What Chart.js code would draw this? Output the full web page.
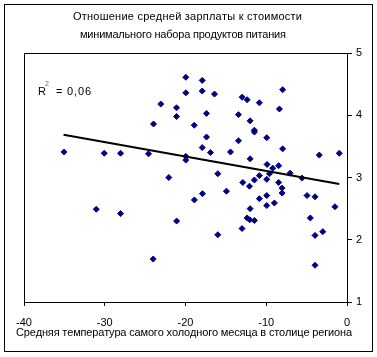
<!DOCTYPE html>
<html><head><meta charset="utf-8">
<script src="https://cdn.jsdelivr.net/npm/chart.js@4.4.0/dist/chart.umd.min.js"></script>
<style>html,body{margin:0;padding:0;background:#fff;} canvas{display:block;}</style>
</head><body>
<div style="width:377px;height:357px;position:relative"><canvas id="c" width="377" height="357"></canvas></div>
<script>
const titleLines = ['Отношение средней зарплаты к стоимости', 'минимального набора продуктов питания'];
const xAxisTitle = 'Средняя температура самого холодного месяца в столице региона';
const r2Value = '0,06';

const tempX = [-35.05,-31.05,-30.06,-28.04,-28.04,-24.58,-23.96,-24.0,-23.06,-22.07,
  -21.11,-21.11,-21.1,-19.96,-19.96,-19.96,-19.96,-18.92,-18.9,-17.93,
  -17.93,-17.4,-17.4,-17.93,-17.9,-16.91,-16.41,-16.0,-16.0,-14.93,
  -14.43,-13.44,-13.44,-12.99,-12.37,-12.0,-12.0,-12.9,-12.08,-12.0,
  -12.37,-12.05,-11.47,-13.0,-11.47,-11.47,-11.47,-10.85,-10.85,-10.85,
  -9.94,-9.9,-9.6,-9.94,-9.94,-9.94,-9.2,-8.99,-8.46,-8.46,
  -8.37,-8.04,-8.04,-7.97,-7.97,-7.05,-5.57,-4.95,-4.54,-3.96,
  -3.96,-3.0,-3.96,-3.43,-1.49,-0.95];
const ratioY = [3.41,2.49,3.39,3.39,2.42,3.38,3.86,1.69,4.18,3.0,
  4.12,3.98,2.30,4.61,4.36,3.34,3.28,3.84,2.64,4.56,
  4.39,4.03,3.65,3.48,2.74,3.40,4.34,3.06,2.08,2.78,
  3.41,4.01,3.59,4.29,4.25,3.91,3.30,2.92,2.86,2.50,
  2.35,2.32,2.31,2.18,3.76,3.73,2.96,4.20,3.03,2.66,
  3.64,3.21,3.06,2.97,2.71,2.55,3.15,2.59,3.19,2.92,
  4.10,2.83,2.75,4.41,3.46,3.07,2.99,2.71,2.35,2.69,
  2.07,2.13,1.59,3.36,2.53,3.39];

const trendX = [-35.1, -0.95];
const trendY = [3.687, 2.895];

const xTicks = [-40, -30, -20, -10, 0];
const yTicks = [1, 2, 3, 4, 5];

const FONT = '"Liberation Sans", Arial, sans-serif';

function spreadText(ctx, str, left, right, y) {
  const chars = Array.from(str);
  const widths = chars.map(c => ctx.measureText(c).width);
  const total = widths.reduce((s, w) => s + w, 0);
  const extra = chars.length > 1 ? (right - left - total) / (chars.length - 1) : 0;
  let x = left;
  ctx.textAlign = 'left';
  chars.forEach((c, i) => { ctx.fillText(c, x, y); x += widths[i] + extra; });
}

const decor = {
  id: 'decor',
  afterDraw(chart) {
    const ctx = chart.ctx;
    const a = chart.chartArea;
    ctx.save();
    ctx.strokeStyle = '#000';
    ctx.lineWidth = 1;
    ctx.strokeRect(4.5, 4.5, 368, 347);
    ctx.strokeRect(Math.round(a.left) + 0.5, Math.round(a.top) + 0.5,
      Math.round(a.right) - Math.round(a.left), Math.round(a.bottom) - Math.round(a.top));
    ctx.fillStyle = '#000';
    ctx.font = '11px ' + FONT;
    ctx.textBaseline = 'middle';
    spreadText(ctx, titleLines[0], 73, 302, 17);
    spreadText(ctx, titleLines[1], 80, 286, 35);
    spreadText(ctx, xAxisTitle, 16, 352, 333);
    ctx.textBaseline = 'alphabetic';
    ctx.textAlign = 'left';
    ctx.fillText('R', 38, 95);
    spreadText(ctx, '= ' + r2Value, 56, 91, 95);
    ctx.font = '7px ' + FONT;
    ctx.fillStyle = '#6e6e1e';
    ctx.fillText('2', 45, 86);
    ctx.restore();
  }
};

new Chart(document.getElementById('c'), {
  type: 'scatter',
  data: {
    datasets: [
      {
        data: trendX.map((x, i) => ({x, y: trendY[i]})),
        showLine: true,
        borderColor: '#000',
        borderWidth: 2,
        pointRadius: 0,
        fill: false,
        order: 0
      },
      {
        data: tempX.map((x, i) => ({x, y: ratioY[i]})),
        pointStyle: 'rectRot',
        pointRadius: 3,
        borderWidth: 1,
        borderColor: '#000080',
        backgroundColor: '#000080',
        order: 1
      }
    ]
  },
  options: {
    responsive: false,
    animation: false,
    devicePixelRatio: 1,
    layout: { padding: { left: 24, top: 53, right: 0, bottom: 0 } },
    plugins: { legend: { display: false }, tooltip: { enabled: false }, title: { display: false } },
    scales: {
      x: {
        type: 'linear', position: 'bottom', min: -40, max: 0,
        afterBuildTicks: s => { s.ticks = xTicks.map(v => ({value: v})); },
        afterFit: s => { s.height = 55; },
        grid: { display: true, drawOnChartArea: false, drawTicks: true, tickLength: 4, color: '#000' },
        border: { display: true, color: '#000', width: 1 },
        ticks: { color: '#000', font: { family: FONT, size: 11 }, padding: 10, maxRotation: 0 }
      },
      y: {
        type: 'linear', position: 'right', min: 1, max: 5,
        afterBuildTicks: s => { s.ticks = yTicks.map(v => ({value: v})); },
        afterFit: s => { s.width = 30; },
        grid: { display: true, drawOnChartArea: false, drawTicks: true, tickLength: 5, color: '#000' },
        border: { display: true, color: '#000', width: 1 },
        ticks: { color: '#000', font: { family: FONT, size: 11 }, padding: 4 }
      }
    }
  },
  plugins: [decor]
});
</script>
</body></html>
